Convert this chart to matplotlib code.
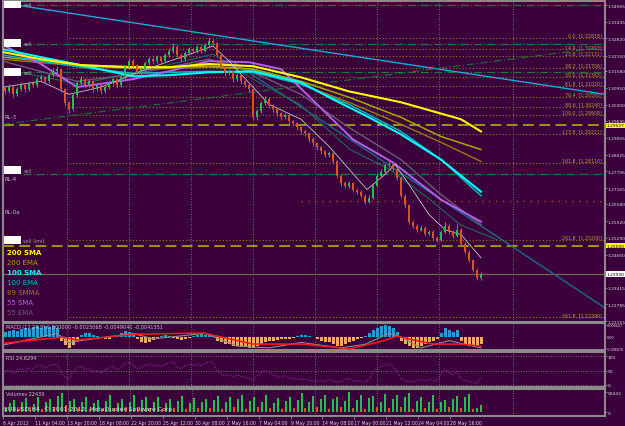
import matplotlib

matplotlib.use("Agg")
import matplotlib.pyplot as plt
from matplotlib.patches import Rectangle
from matplotlib.transforms import blended_transform_factory

import numpy as np

BG = "#3b003c"
FRAME = "#8e8e8e"
TXT = "#dcdcdc"
GRIDC = "#8a8a8a"
UP = "#22c04c"
DOWN = "#e0521c"
AXIS_FS = 3.15

# ---- EURUSD H4 candles, one candle per 8 hours ----
OPEN0 = 1.3095
CLOSES = [
    1.3081, 1.3097, 1.3070, 1.3089, 1.3104, 1.3089, 1.3112, 1.3104, 1.3127, 1.3134,
    1.3119, 1.3142, 1.3157, 1.3165, 1.3089, 1.3036, 1.3013, 1.3066, 1.3112, 1.3127,
    1.3104, 1.3119, 1.3089, 1.3104, 1.3081, 1.3097, 1.3112, 1.3127, 1.3104, 1.3134,
    1.3172, 1.3195, 1.3180, 1.3149, 1.3165, 1.3187, 1.3202, 1.3195, 1.3210, 1.3195,
    1.3218, 1.3233, 1.3248, 1.3218, 1.3202, 1.3225, 1.3240, 1.3233, 1.3248, 1.3233,
    1.3255, 1.3270, 1.3263, 1.3218, 1.3172, 1.3149, 1.3157, 1.3127, 1.3142, 1.3119,
    1.3104, 1.3089, 1.2983, 1.3006, 1.3036, 1.3051, 1.3029, 1.3013, 1.2998, 1.2983,
    1.2991, 1.2968, 1.2960, 1.2945, 1.2930, 1.2923, 1.2900, 1.2885, 1.2870, 1.2855,
    1.2840, 1.2847, 1.2817, 1.2764, 1.2734, 1.2726, 1.2734, 1.2711, 1.2703, 1.2688,
    1.2666, 1.2681, 1.2726, 1.2764, 1.2779, 1.2802, 1.2809, 1.2787, 1.2756, 1.2688,
    1.2651, 1.2590, 1.2575, 1.2560, 1.2567, 1.2545, 1.2552, 1.2530, 1.2522, 1.2552,
    1.2575, 1.2552, 1.2537, 1.2560, 1.2507, 1.2477, 1.2446, 1.2409, 1.2378, 1.2393,
]
HIGHS = [
    1.3105, 1.3108, 1.3104, 1.3096, 1.3115, 1.3112, 1.3120, 1.3122, 1.3135, 1.3146,
    1.3140, 1.3150, 1.3168, 1.3178, 1.3170, 1.3095, 1.3044, 1.3075, 1.3122, 1.3138,
    1.3133, 1.3128, 1.3125, 1.3112, 1.3110, 1.3105, 1.3120, 1.3136, 1.3132, 1.3142,
    1.3180, 1.3205, 1.3202, 1.3186, 1.3172, 1.3196, 1.3212, 1.3210, 1.3218, 1.3216,
    1.3226, 1.3243, 1.3262, 1.3255, 1.3225, 1.3233, 1.3250, 1.3246, 1.3256, 1.3254,
    1.3264, 1.3283, 1.3278, 1.3268, 1.3224, 1.3178, 1.3166, 1.3162, 1.3150, 1.3148,
    1.3125, 1.3110, 1.3092, 1.3015, 1.3045, 1.3062, 1.3058, 1.3035, 1.3020, 1.3004,
    1.3000, 1.2996, 1.2975, 1.2966, 1.2952, 1.2938, 1.2928, 1.2908, 1.2892, 1.2876,
    1.2862, 1.2856, 1.2852, 1.2822, 1.2770, 1.2742, 1.2745, 1.2740, 1.2718, 1.2710,
    1.2694, 1.2690, 1.2734, 1.2772, 1.2788, 1.2812, 1.2822, 1.2815, 1.2792, 1.2762,
    1.2695, 1.2656, 1.2598, 1.2582, 1.2576, 1.2572, 1.2560, 1.2558, 1.2536, 1.2560,
    1.2590, 1.2580, 1.2558, 1.2580, 1.2565, 1.2512, 1.2482, 1.2450, 1.2414, 1.2400,
]
LOWS = [
    1.3072, 1.3074, 1.3060, 1.3064, 1.3082, 1.3080, 1.3083, 1.3096, 1.3098, 1.3118,
    1.3110, 1.3113, 1.3135, 1.3148, 1.3080, 1.3025, 1.2998, 1.3006, 1.3058, 1.3103,
    1.3095, 1.3097, 1.3077, 1.3082, 1.3072, 1.3074, 1.3090, 1.3106, 1.3095, 1.3098,
    1.3128, 1.3165, 1.3172, 1.3138, 1.3140, 1.3158, 1.3180, 1.3186, 1.3188, 1.3186,
    1.3190, 1.3210, 1.3226, 1.3210, 1.3193, 1.3196, 1.3218, 1.3224, 1.3227, 1.3225,
    1.3228, 1.3248, 1.3254, 1.3210, 1.3164, 1.3140, 1.3142, 1.3118, 1.3120, 1.3110,
    1.3096, 1.3080, 1.2975, 1.2975, 1.3000, 1.3030, 1.3020, 1.3005, 1.2990, 1.2974,
    1.2976, 1.2960, 1.2950, 1.2937, 1.2922, 1.2914, 1.2892, 1.2876, 1.2862, 1.2846,
    1.2832, 1.2834, 1.2808, 1.2755, 1.2725, 1.2716, 1.2718, 1.2702, 1.2694, 1.2680,
    1.2655, 1.2660, 1.2676, 1.2720, 1.2758, 1.2772, 1.2795, 1.2780, 1.2748, 1.2680,
    1.2642, 1.2582, 1.2566, 1.2552, 1.2554, 1.2536, 1.2538, 1.2522, 1.2512, 1.2516,
    1.2546, 1.2545, 1.2530, 1.2532, 1.2500, 1.2468, 1.2438, 1.2400, 1.2370, 1.2372,
]

# ---- moving averages (knots: bar index, price) ----
SMA200_X = [-0.5, 9, 19, 31, 41, 51, 62, 74, 86, 93, 99, 107, 114, 119]
SMA200_Y = [1.3229, 1.3202, 1.3180, 1.3172, 1.3172, 1.3184, 1.3176, 1.3134,
            1.3081, 1.3059, 1.3040, 1.3006, 1.2976, 1.2930]
EMA200_X = [-0.5, 19, 36, 51, 62, 74, 86, 99, 109, 119]
EMA200_Y = [1.3210, 1.3180, 1.3172, 1.3176, 1.3165, 1.3119, 1.3059, 1.2983,
            1.2911, 1.2862]
SMA100_X = [-0.5, 9, 19, 32, 41, 51, 62, 74, 82, 90.5, 99, 109, 119]
SMA100_Y = [1.3240, 1.3210, 1.3180, 1.3138, 1.3142, 1.3153, 1.3157, 1.3115,
            1.3051, 1.2987, 1.2919, 1.2824, 1.2703]
EMA100_X = [-0.5, 19, 32, 51, 62, 74, 86, 99, 109, 119]
EMA100_Y = [1.3218, 1.3172, 1.3149, 1.3157, 1.3153, 1.3108, 1.3032, 1.2930,
            1.2824, 1.2688]
SMMA89_X = [-0.5, 19, 36, 51, 62, 74, 86, 99, 109, 119]
SMMA89_Y = [1.3202, 1.3176, 1.3165, 1.3172, 1.3165, 1.3108, 1.3040, 1.2957,
            1.2889, 1.2817]
SMA55_X = [-0.5, 9, 18, 32, 41, 51, 61, 69, 76, 87, 97, 109, 119]
SMA55_Y = [1.3255, 1.3184, 1.3097, 1.3127, 1.3157, 1.3195, 1.3191, 1.3165,
           1.3062, 1.2900, 1.2813, 1.2673, 1.2590]
EMA55_X = [-0.5, 18, 32, 51, 62, 74, 86, 99, 109, 119]
EMA55_Y = [1.3195, 1.3119, 1.3146, 1.3202, 1.3153, 1.3070, 1.2945, 1.2824,
           1.2692, 1.2579]
FAST_X = [-0.5, 9, 16, 24, 34, 44, 52, 56, 62, 66, 74, 81, 90.5, 95, 97.5,
          101, 106, 110, 114, 119]
FAST_Y = [1.3097, 1.3119, 1.3070, 1.3097, 1.3157, 1.3210, 1.3252, 1.3195,
          1.3097, 1.3032, 1.2976, 1.2874, 1.2711, 1.2768, 1.2806, 1.2730,
          1.2617, 1.2560, 1.2541, 1.2454]
MID_X = [-0.5, 18.75, 36.25, 52, 62, 73.75, 86.25, 96.25, 106.25, 113.75, 123]
MID_Y = [1.3165, 1.3108, 1.3165, 1.3221, 1.3127, 1.3032, 1.2862, 1.2787,
         1.2673, 1.2579, 1.2522]

LEGEND = ["200 SMA", "200 EMA", "100 SMA", "100 EMA", "89 SMMA", "55 SMA", "55 EMA"]
LEGEND_COLORS = ["#ffff00", "#a8a800", "#00ffff", "#00b8c0", "#9c7a10", "#b060e8", "#6c5a7c"]
LEGEND_BOLD = [True, False, True, False, False, False, False]

# ---- trend lines (two anchors each) ----
TL_BLUE_X, TL_BLUE_Y = [-0.5, 150], [1.3414, 1.3070]
TL_TEAL_X, TL_TEAL_Y = [56, 150], [1.3202, 1.2265]
TL_GREEN_X, TL_GREEN_Y = [-0.5, 150], [1.2957, 1.3248]

# ---- horizontal levels ----
ORDER_LEVELS = [1.34065, 1.32591, 1.31533, 1.27715]
LIMIT_LEVELS = [1.29527, 1.25000]
RL_LEVEL = 1.26694
FIB_0, FIB_100 = 1.32818, 1.29908
FIB_LEVELS = [0.0, 14.6, 23.6, 38.2, 50.0, 61.8, 76.4, 88.6, 100.0, 123.6,
              161.8, 261.8, 361.8]

PRICE_TICKS = [1.34065, 1.33435, 1.32820, 1.32150, 1.31580, 1.30950, 1.30300,
               1.29695, 1.29065, 1.28425, 1.27795, 1.27165, 1.26580, 1.25920,
               1.25290, 1.24660, 1.24030, 1.23415, 1.22785, 1.22155]

# ---- MACD ----
MACD_HIST = [
    0.0030, 0.0035, 0.0040, 0.0035, 0.0045, 0.0050, 0.0045, 0.0055, 0.0060, 0.0050,
    0.0060, 0.0055, 0.0060, 0.0050, -0.0020, -0.0045, -0.0060, -0.0045, -0.0020, 0.0010,
    0.0020, 0.0020, 0.0010, 0.0005, -0.0005, -0.0010, -0.0010, 0.0005, 0.0010, 0.0020,
    0.0035, 0.0030, 0.0020, -0.0010, -0.0025, -0.0035, -0.0025, -0.0015, -0.0005, 0.0005,
    0.0010, 0.0005, -0.0005, -0.0010, -0.0015, -0.0010, -0.0005, 0.0005, 0.0010, 0.0015,
    0.0010, 0.0015, 0.0010, -0.0020, -0.0030, -0.0040, -0.0040, -0.0050, -0.0050, -0.0055,
    -0.0055, -0.0060, -0.0060, -0.0050, -0.0040, -0.0030, -0.0020, -0.0020, -0.0015, -0.0010,
    -0.0010, -0.0010, -0.0005, 0.0005, 0.0010, 0.0010, 0.0005, 0.0002, -0.0010, -0.0020,
    -0.0030, -0.0030, -0.0040, -0.0050, -0.0050, -0.0040, -0.0030, -0.0020, -0.0010, -0.0005,
    0.0005, 0.0020, 0.0040, 0.0050, 0.0060, 0.0065, 0.0060, 0.0050, 0.0030, -0.0020,
    -0.0040, -0.0050, -0.0060, -0.0060, -0.0050, -0.0040, -0.0030, -0.0020, -0.0010, 0.0020,
    0.0050, 0.0040, 0.0030, 0.0040, -0.0020, -0.0040, -0.0050, -0.0050, -0.0045, -0.0040,
]
SIGNAL_X = [-0.5, 14.5, 18, 32, 49.5, 62, 74, 82, 86, 94.5, 98, 101, 107, 114, 119]
SIGNAL_Y = [-0.0035, 0.0, -0.0017, 0.0015, 0.0022, -0.0039, -0.0039, -0.0055,
            -0.0066, -0.0022, 0.0005, -0.0011, -0.0039, -0.0039, -0.0050]
MAIN_X = [-0.5, 13, 16, 22, 32, 37, 50, 58, 66, 74, 84, 90, 96, 99, 104, 111, 119]
MAIN_Y = [-0.0045, 0.0020, -0.0030, -0.0010, 0.0020, -0.0010, 0.0020, -0.0050,
          -0.0060, -0.0030, -0.0060, -0.0040, 0.0020, 0.0000, -0.0060, -0.0020,
          -0.0060]

# ---- RSI ----
RSI = [
    45, 55, 40, 50, 58, 50, 60, 55, 65, 68, 58, 66, 70, 72, 40, 28, 22, 45, 60, 65,
    52, 58, 45, 52, 42, 50, 58, 64, 52, 62, 72, 78, 70, 55, 60, 68, 72, 66, 70, 62,
    72, 76, 80, 62, 55, 66, 72, 68, 74, 66, 74, 80, 76, 52, 38, 32, 36, 28, 35, 30,
    26, 24, 15, 30, 42, 50, 42, 36, 30, 26, 32, 25, 22, 20, 18, 20, 16, 14, 14, 13,
    12, 20, 14, 10, 12, 18, 22, 16, 15, 12, 10, 20, 45, 58, 62, 70, 72, 60, 45, 22,
    16, 10, 12, 14, 20, 14, 22, 16, 14, 38, 55, 42, 36, 48, 22, 16, 12, 8, 6, 24,
]

# ---- Volumes (thousands of ticks) ----
VOLUMES = [
    12, 28, 35, 10, 30, 42, 14, 25, 45, 8, 30, 38, 15, 48, 55, 20, 32, 40, 12, 30,
    44, 10, 26, 36, 8, 34, 50, 12, 28, 40, 14, 30, 52, 10, 35, 46, 12, 30, 44, 9,
    28, 38, 13, 32, 47, 10, 26, 42, 11, 30, 40, 12, 36, 48, 10, 30, 46, 14, 38, 52,
    9, 34, 44, 16, 30, 50, 12, 28, 42, 10, 32, 46, 13, 36, 55, 11, 30, 48, 14, 38,
    50, 10, 40, 44, 16, 34, 58, 12, 36, 52, 10, 42, 48, 14, 30, 54, 12, 38, 50, 15,
    44, 56, 10, 34, 46, 12, 30, 52, 9, 30, 36, 14, 40, 48, 12, 46, 54, 10, 12, 22,
]

DATE_BARS = [-0.75, 7.25, 15.25, 23.25, 31.25, 39.25, 47.25, 55.25, 63.25,
             71.25, 79.25, 87.25, 95.25, 103.25, 111.25]
DATE_LABELS = ["6 Apr 2012", "11 Apr 04:00", "13 Apr 20:00", "18 Apr 08:00",
               "22 Apr 20:00", "25 Apr 12:00", "30 Apr 08:00", "2 May 16:00",
               "7 May 04:00", "9 May 20:00", "14 May 08:00", "17 May 00:00",
               "21 May 12:00", "24 May 04:00", "28 May 16:00"]
GRID_BARS = [15.5, 31, 46.5, 62, 77.5, 93, 108.5, 127]

XLIM = (-0.5, 150)


def style_panel(ax):
    ax.set_facecolor(BG)
    ax.set_xlim(*XLIM)
    for s in ax.spines.values():
        s.set_color(FRAME)
        s.set_linewidth(1.4)
    ax.yaxis.tick_right()
    ax.tick_params(axis="y", colors=FRAME, labelcolor=TXT, labelsize=AXIS_FS,
                   length=1.5, width=0.6, pad=0.6)
    ax.tick_params(axis="x", bottom=False, labelbottom=False)
    for gx in GRID_BARS:
        ax.axvline(gx, color=GRIDC, lw=0.6, ls=(0, (1, 2)), zorder=0)


plt.rcParams["font.family"] = ["DejaVu Sans"]
fig = plt.figure(figsize=(6.25, 4.27), dpi=100, facecolor=BG)
L, W = 3 / 625, 602 / 625
ax = fig.add_axes([L, 1 - 323 / 427, W, 321 / 427])
ax_macd = fig.add_axes([L, 1 - 351 / 427, W, 27 / 427])
ax_rsi = fig.add_axes([L, 1 - 388 / 427, W, 35 / 427])
ax_vol = fig.add_axes([L, 1 - 417 / 427, W, 27 / 427])
for a in (ax, ax_macd, ax_rsi, ax_vol):
    style_panel(a)

# ---------------- main price panel ----------------
ax.set_ylim(1.22120, 1.34216)
ax.set_yticks(PRICE_TICKS)
ax.set_yticklabels([f"{v:.5f}" for v in PRICE_TICKS])
blend = blended_transform_factory(ax.transAxes, ax.transData)

idx = np.arange(len(CLOSES))
closes = np.array(CLOSES)
opens = np.array([OPEN0] + CLOSES[:-1])
colors = np.where(closes >= opens, UP, DOWN)

# levels
fib_prices = [FIB_0 - (FIB_0 - FIB_100) * lv / 100 for lv in FIB_LEVELS]
ax.hlines(fib_prices, 16, XLIM[1], colors="#8c8420", lw=0.8, ls=(0, (1, 2)), zorder=1)
for lv, p in zip(FIB_LEVELS, fib_prices):
    ax.text(0.995, p + 0.0002, f"{lv:.1f}  [{p:.5f}]", transform=blend,
            ha="right", va="bottom", fontsize=3.4, color="#b89a38", zorder=2)
ax.hlines(ORDER_LEVELS, 4.5, XLIM[1], colors="#1e7a3c", lw=0.9, ls="-.", zorder=1)
ax.hlines(LIMIT_LEVELS, XLIM[0], XLIM[1], colors="#a4a400", lw=1.3,
          ls=(0, (6, 3)), zorder=1)
ax.hlines(RL_LEVEL, 74, XLIM[1], colors="#a8481c", lw=1.0, ls=(0, (1, 4)), zorder=1)
ax.axhline(CLOSES[-1], color="#6e6c48", lw=0.9, zorder=1)

# trend lines
ax.plot(TL_BLUE_X, TL_BLUE_Y, color="#22a6d4", lw=1.0, zorder=2)
ax.plot(TL_TEAL_X, TL_TEAL_Y, color="#1c6a8c", lw=1.0, zorder=2)
ax.plot(TL_GREEN_X, TL_GREEN_Y, color="#1d6b3a", lw=0.9, ls=(0, (6, 2, 1, 2)), zorder=2)

# moving averages
ax.plot(MID_X, MID_Y, color="#1f6a5c", lw=0.8, zorder=3)
ax.plot(EMA55_X, EMA55_Y, color=LEGEND_COLORS[6], lw=1.0, zorder=3)
ax.plot(SMMA89_X, SMMA89_Y, color=LEGEND_COLORS[4], lw=1.0, zorder=3)
ax.plot(EMA200_X, EMA200_Y, color=LEGEND_COLORS[1], lw=1.1, zorder=3)
ax.plot(EMA100_X, EMA100_Y, color=LEGEND_COLORS[3], lw=1.1, zorder=3)
ax.plot(SMA55_X, SMA55_Y, color=LEGEND_COLORS[5], lw=1.4, zorder=3)
ax.plot(SMA100_X, SMA100_Y, color=LEGEND_COLORS[2], lw=1.5, zorder=3)
ax.plot(SMA200_X, SMA200_Y, color=LEGEND_COLORS[0], lw=1.5, zorder=3)
ax.plot(FAST_X, FAST_Y, color="#c8c8c8", lw=0.6, zorder=4)

# candles
ax.vlines(idx, LOWS, HIGHS, colors=colors, lw=0.7, zorder=5)
bodies = np.maximum(np.abs(closes - opens), 0.00015)
ax.bar(idx, bodies, bottom=np.minimum(opens, closes), width=0.65,
       color=colors, lw=0, zorder=5)

# price tags on the right scale
for p in LIMIT_LEVELS:
    ax.text(1.002, p, f"{p:.5f}", transform=blend, ha="left", va="center",
            fontsize=AXIS_FS, color="black", clip_on=False, zorder=10,
            bbox=dict(facecolor="#ffff00", edgecolor="none", pad=0.5))
ax.text(1.002, CLOSES[-1], f"{CLOSES[-1]:.5f}", transform=blend, ha="left",
        va="center", fontsize=AXIS_FS, color="black", clip_on=False, zorder=10,
        bbox=dict(facecolor="white", edgecolor="none", pad=0.5))

# order labels at the left edge
for y0, label in [(0.978, "sell"), (0.857, "sell"), (0.766, "sell"),
                  (0.461, "sell"), (0.243, "sell limit")]:
    ax.add_patch(Rectangle((0.0015, y0), 0.029, 0.025, transform=ax.transAxes,
                           facecolor="white", edgecolor="none", zorder=8))
    ax.text(0.034, y0 + 0.012, label, transform=ax.transAxes, fontsize=3.6,
            color="#a0a0a0", va="center", zorder=8)
for y0, label in [(0.6417, "RL-3"), (0.4455, "RL-4"), (0.3427, "RL-0a")]:
    ax.text(0.003, y0, label, transform=ax.transAxes, fontsize=4.0,
            color="#c0c0c0", va="center", zorder=8)

# indicator legend
for k, (name, col, bold) in enumerate(zip(LEGEND, LEGEND_COLORS, LEGEND_BOLD)):
    ax.text(0.0066, 0.218 - k * 0.0312, name, transform=ax.transAxes,
            fontsize=5.0, color=col, va="center",
            fontweight="bold" if bold else "normal", zorder=8)

# ---------------- MACD panel ----------------
hist = np.array(MACD_HIST)
ax_macd.set_ylim(-0.00715, 0.0077)
ax_macd.bar(idx, hist, width=0.75, color=np.where(hist >= 0, "#2a9ad2", "#f0a866"),
            lw=0, zorder=2)
ax_macd.plot(MAIN_X, MAIN_Y, color="#8c8c8c", lw=0.8, zorder=3)
ax_macd.plot(SIGNAL_X, SIGNAL_Y, color="#ff1a1a", lw=1.1, zorder=4)
ax_macd.set_yticks([0.006627, 0.0, -0.006075])
ax_macd.set_yticklabels(["0.006627", "0.00", "-0.006075"])
ax_macd.tick_params(axis="y", labelsize=2.45, pad=0.3, length=1)
ax_macd.text(0.005, 0.86, "MACD (12,24,9) 0.000000 -0.0023068 -0.0049041 -0.0041351",
             transform=ax_macd.transAxes, fontsize=3.6, color="#c8c8c8", va="center")

# ---------------- RSI panel ----------------
ax_rsi.set_ylim(-6.9, 113.8)
for lv in (100, 50, 0):
    ax_rsi.axhline(lv, color=GRIDC, lw=0.6, ls=(0, (1, 2)), zorder=0)
ax_rsi.plot(idx, RSI, color="#a020a8", lw=0.8, ls=(0, (1, 1.5)), zorder=2)
ax_rsi.set_yticks([100, 50, 0])
ax_rsi.set_yticklabels(["100", "50", "0"])
ax_rsi.text(0.005, 0.85, "RSI 24.6294", transform=ax_rsi.transAxes,
            fontsize=3.6, color="#c8c8c8", va="center")

# ---------------- Volumes panel ----------------
vols = np.array(VOLUMES) * 1000
prev = np.concatenate([[vols[0]], vols[:-1]])
ax_vol.set_ylim(-11888, 68360)
ax_vol.bar(idx, vols, width=0.5, color=np.where(vols >= prev, UP, DOWN), lw=0, zorder=2)
ax_vol.set_yticks([59443, 0])
ax_vol.set_yticklabels(["59443", "0"])
ax_vol.text(0.005, 0.85, "Volumes 22439", transform=ax_vol.transAxes,
            fontsize=3.6, color="#c8c8c8", va="center")
ax_vol.text(0.002, 0.3, "EURUSD,H4  \u00a9 2001-2012, MetaQuotes Software Corp.",
            transform=ax_vol.transAxes, fontsize=4.4, color="#e6e6e6",
            va="center", zorder=6)
ax_vol.set_xticks(DATE_BARS)
ax_vol.set_xticklabels(DATE_LABELS)
ax_vol.tick_params(axis="x", bottom=True, labelbottom=True, colors=FRAME,
                   labelcolor=TXT, labelsize=3.3, length=2, width=0.6, pad=1)
for lbl in ax_vol.get_xticklabels():
    lbl.set_ha("left")

fig.savefig("out.png", dpi=100, facecolor=BG)
